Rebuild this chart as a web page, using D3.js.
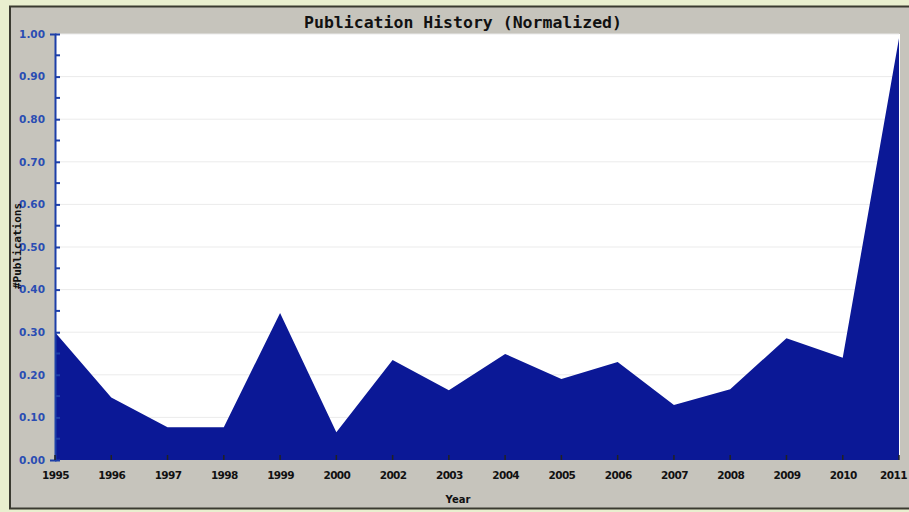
<!DOCTYPE html>
<html><head><meta charset="utf-8">
<script src="https://cdn.jsdelivr.net/npm/d3@7"></script>
<style>body{margin:0;background:#eaf0d0;}svg{display:block}</style>
</head><body>
<svg id="c" width="909" height="512"></svg>
<script>
const years = ["1995","1996","1997","1998","1999","2000","2002","2003","2004","2005","2006","2007","2008","2009","2010","2011"];
const values = [0.30,0.147,0.077,0.077,0.345,0.065,0.235,0.164,0.249,0.19,0.23,0.129,0.166,0.286,0.24,0.99];
const yTicks = [0,0.1,0.2,0.3,0.4,0.5,0.6,0.7,0.8,0.9,1.0];
const title = "Publication History (Normalized)";
const xTitle = "Year";
const yTitle = "#Publications";

const svg = d3.select("#c");
const W=909,H=512;
const m={l:55,r:899,t:34,b:460};
svg.append("rect").attr("x",0).attr("y",0).attr("width",W).attr("height",H).attr("fill","#e9efcf");
svg.append("rect").attr("x",10).attr("y",6.5).attr("width",905).attr("height",502).attr("fill","#c6c4bc").attr("stroke","#3a3a30").attr("stroke-width",2);
svg.append("rect").attr("x",m.l).attr("y",m.t).attr("width",m.r-m.l+1).attr("height",m.b-m.t).attr("fill","#ffffff");

const x=d3.scalePoint().domain(years).range([m.l,m.r]);
const y=d3.scaleLinear().domain([0,1]).range([m.b,m.t]);

svg.append("g").selectAll("line").data(yTicks.slice(1)).join("line")
 .attr("x1",m.l).attr("x2",m.r).attr("y1",d=>y(d)).attr("y2",d=>y(d))
 .attr("stroke","#ebebeb").attr("stroke-width",1);

const area=d3.area().x((d,i)=>x(years[i])).y0(y(0)).y1(d=>y(d));
svg.append("path").datum(values).attr("d",area).attr("fill","#0b1896");

const yAxis=d3.axisLeft(y).tickValues(yTicks).tickFormat(d3.format(".2f")).tickSize(5).tickPadding(4);
const gy=svg.append("g").attr("transform",`translate(${m.l},0)`).call(yAxis);
gy.select(".domain").attr("stroke","#1d3fa8").attr("stroke-width",2);
gy.selectAll(".tick line").attr("stroke","#1d3fa8").attr("stroke-width",2).attr("x1",0).attr("x2",5);
gy.selectAll("text").attr("fill","#2a4db3").attr("font-family","Verdana, DejaVu Sans, sans-serif").attr("font-weight","bold").attr("font-size","10.5px").attr("x",-10);
svg.append("g").selectAll("line").data(d3.range(0.05,1,0.1)).join("line")
 .attr("x1",m.l).attr("x2",m.l+5).attr("y1",d=>y(d)).attr("y2",d=>y(d)).attr("stroke","#1d3fa8").attr("stroke-width",2);

const xAxis=d3.axisBottom(x).tickSize(0).tickPadding(12);
const gx=svg.append("g").attr("transform",`translate(0,${m.b})`).call(xAxis);
gx.select(".domain").remove();
gx.selectAll("text").attr("fill","#111").attr("font-family","Verdana, DejaVu Sans, sans-serif").attr("font-weight","bold").attr("font-size","10.5px").attr("letter-spacing","-0.6px")
  .attr("dx",(d,i)=>i===years.length-1?"-6px":null);
svg.append("g").selectAll("line").data(years).join("line")
 .attr("x1",d=>x(d)).attr("x2",d=>x(d)).attr("y1",m.b-5).attr("y2",m.b).attr("stroke","#222").attr("stroke-width",1.5);

svg.append("text").attr("x",463).attr("y",28).attr("text-anchor","middle")
 .attr("font-family","DejaVu Sans Mono, monospace").attr("font-weight","bold").attr("font-size","16.5px").attr("fill","#111").text(title);
svg.append("text").attr("x",458).attr("y",503).attr("text-anchor","middle")
 .attr("font-family","Verdana, DejaVu Sans, sans-serif").attr("font-weight","bold").attr("font-size","10px").attr("fill","#111").text(xTitle);
svg.append("text").attr("transform","translate(21,246) rotate(-90)").attr("text-anchor","middle")
 .attr("font-family","DejaVu Sans Mono, monospace").attr("font-weight","bold").attr("font-size","11px").attr("fill","#111").text(yTitle);
</script>
</body></html>
